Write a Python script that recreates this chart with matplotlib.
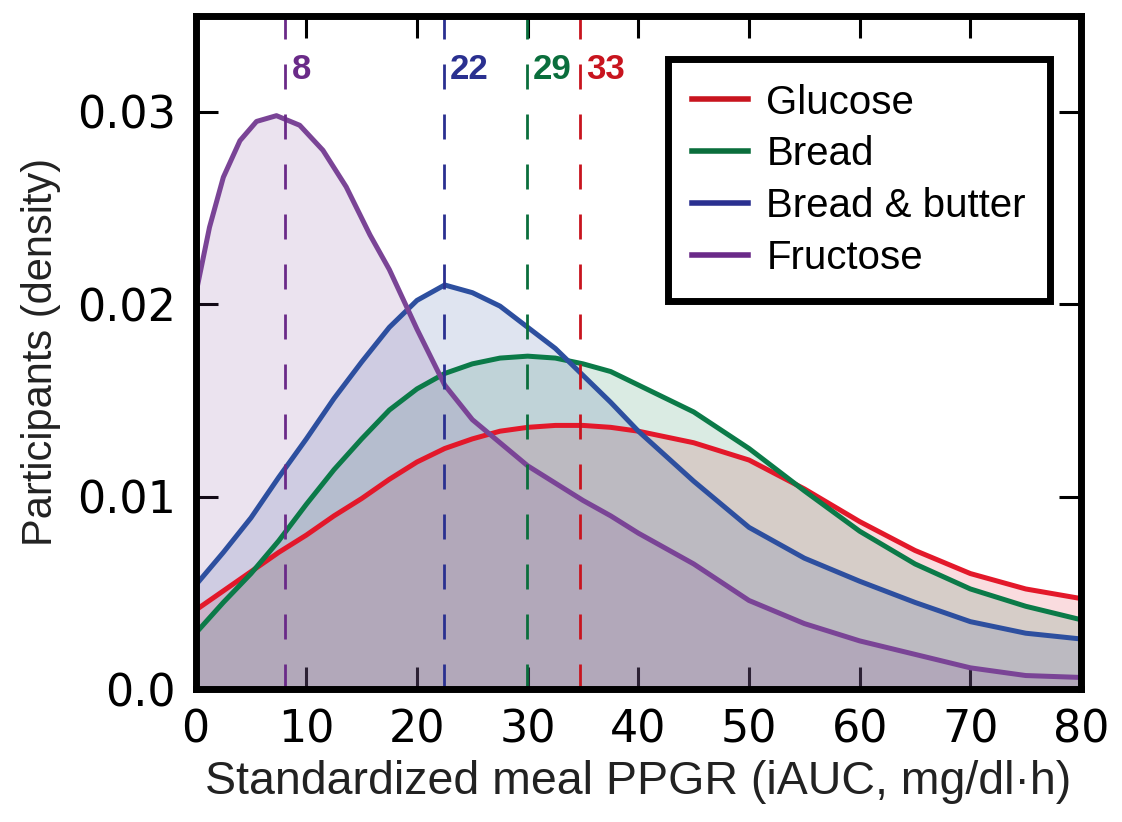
import matplotlib
matplotlib.use('Agg')
import matplotlib.pyplot as plt

# data
x_vals = [0, 2.5, 5, 7.5, 10, 12.5, 15, 17.5, 20, 22.5, 25, 27.5, 30, 32.5, 35, 37.5, 40,
          45, 50, 55, 60, 65, 70, 75, 80]
glucose = [0.0041, 0.0051, 0.0061, 0.0071, 0.0080, 0.0090, 0.0099, 0.0109, 0.0118, 0.0125,
           0.0130, 0.0134, 0.0136, 0.0137, 0.0137, 0.0136, 0.0134,
           0.0128, 0.0119, 0.0104, 0.0087, 0.0072, 0.0060, 0.0052, 0.0047]
bread = [0.0029, 0.0045, 0.0060, 0.0077, 0.0096, 0.0114, 0.0130, 0.0145, 0.0156, 0.0164,
         0.0169, 0.0172, 0.0173, 0.0172, 0.0169, 0.0165, 0.0158,
         0.0144, 0.0125, 0.0103, 0.0082, 0.0065, 0.0052, 0.0043, 0.0036]
bread_butter = [0.0054, 0.0071, 0.0089, 0.0110, 0.0130, 0.0151, 0.0170, 0.0188, 0.0202, 0.0210,
                0.0206, 0.0199, 0.0188, 0.0177, 0.0163, 0.0149, 0.0134,
                0.0108, 0.0084, 0.0068, 0.0056, 0.0045, 0.0035, 0.0029, 0.0026]
# fructose has a sharper peak, read at more points
x_fru = [0, 1.25, 2.5, 4, 5.5, 7.3, 9.4, 11.5, 13.6, 15.75, 17.5, 20, 22.5, 25, 27.5, 30,
         32.5, 35, 37.5, 40, 45, 50, 55, 60, 65, 70, 75, 80]
fructose = [0.0205, 0.0240, 0.0266, 0.0285, 0.0295, 0.0298, 0.0293, 0.0280, 0.0261, 0.0236,
            0.0218, 0.0187, 0.0158, 0.0140, 0.0128, 0.0116, 0.0107, 0.0098, 0.0090, 0.0081,
            0.0065, 0.0046, 0.0034, 0.0025, 0.0018, 0.0011, 0.0007, 0.0006]

names = ['Glucose', 'Bread', 'Bread & butter', 'Fructose']
xs = [x_vals, x_vals, x_vals, x_fru]
series = [glucose, bread, bread_butter, fructose]
line_colors = ['#e3182a', '#0b7a48', '#2d4f9f', '#7a4496']
dark_colors = ['#c8141e', '#0a6e3c', '#2a3090', '#6a2a88']

# median markers (position, label)
median_pos = [34.7, 29.9, 22.4, 8.1]
median_txt = ['33', '29', '22', '8']

fig = plt.figure(figsize=(11.22, 8.22), dpi=100)
ax = fig.add_axes([0.1744, 0.1618, 0.7891, 0.8192])
ax.set_axisbelow(True)

for name, xx, ys, c in zip(names, xs, series, line_colors):
    ax.fill_between(xx, 0, ys, color=c, alpha=0.15, linewidth=0)
    ax.plot(xx, ys, color=c, linewidth=3.6, label=name, solid_joinstyle='round')

# dashed median lines + labels
for xm, t, c in zip(median_pos, median_txt, dark_colors):
    ax.axvline(xm, color=c, linewidth=2, linestyle=(0, (9, 9)), zorder=3)
    ax.text(xm + 0.6, 0.0322, t, color=c, fontsize=25, fontweight='bold',
            family='Liberation Sans', ha='left', va='center')

ax.set_xlim(0, 80)
ax.set_ylim(0, 0.035)
ax.set_xticks(range(0, 81, 10))
ax.set_yticks([0, 0.01, 0.02, 0.03])
ax.set_yticklabels(['0.0', '0.01', '0.02', '0.03'])
ax.tick_params(direction='in', length=16, width=2.2, top=True, right=True,
               labelsize=32, pad=14)

for sp in ax.spines.values():
    sp.set_linewidth(5)
    sp.set_zorder(4)

ax.set_xlabel('Standardized meal PPGR (iAUC, mg/dl·h)', fontsize=33.5,
              family='Liberation Sans', color='#222222', labelpad=6)
ax.set_ylabel('Participants (density)', fontsize=30, family='Liberation Sans',
              color='#222222', labelpad=12)

leg = ax.legend(loc='upper right', bbox_to_anchor=(0.965, 0.935), borderaxespad=0,
                prop={'family': 'Liberation Sans', 'size': 29}, fancybox=False,
                edgecolor='black', framealpha=1, handlelength=1.4,
                handletextpad=0.45, labelspacing=0.34, borderpad=0.6)
leg.get_frame().set_linewidth(5)
for h, c in zip(leg.get_lines(), dark_colors):
    h.set_color(c)
    h.set_linewidth(4)

plt.savefig('out.png', dpi=100)
